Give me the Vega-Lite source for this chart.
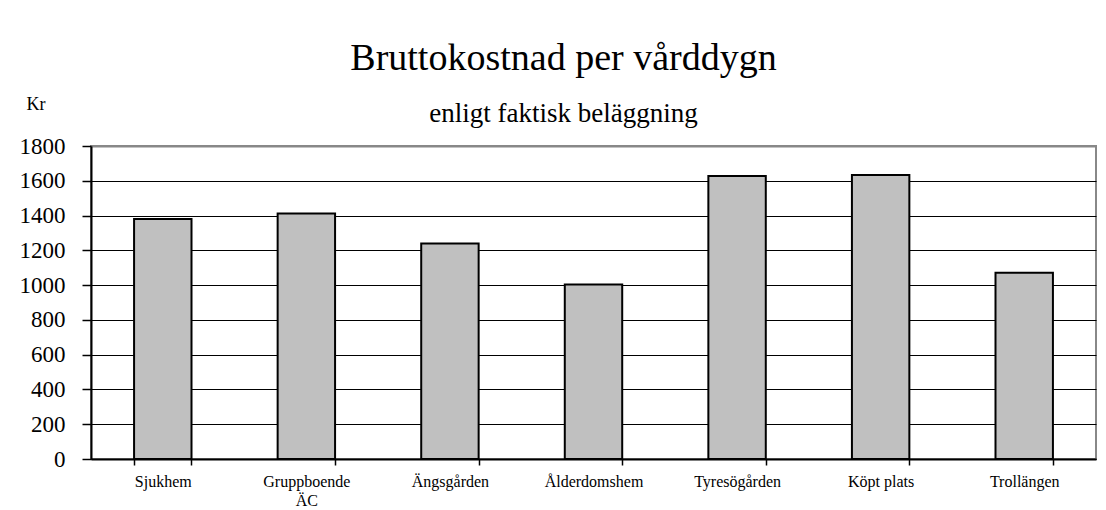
{
  "$schema": "https://vega.github.io/schema/vega-lite/v6.json",
  "autosize": {"type": "none"},
  "width": 1005,
  "height": 313,
  "padding": {"left": 91, "top": 146, "right": 10, "bottom": 51},
  "background": "white",
  "title": {
    "text": "Bruttokostnad per vårddygn",
    "subtitle": "enligt faktisk beläggning",
    "anchor": "middle",
    "frame": "group",
    "dx": -30,
    "offset": -32,
    "font": "Liberation Serif",
    "fontSize": 38,
    "fontWeight": "normal",
    "color": "black",
    "subtitleFont": "Liberation Serif",
    "subtitleFontSize": 27,
    "subtitleColor": "black",
    "subtitlePadding": 23
  },
  "data": {
    "values": [
      {"enhet": "Sjukhem", "kostnad": 1380},
      {"enhet": "Gruppboende ÄC", "kostnad": 1412},
      {"enhet": "Ängsgården", "kostnad": 1240},
      {"enhet": "Ålderdomshem", "kostnad": 1004},
      {"enhet": "Tyresögården", "kostnad": 1627},
      {"enhet": "Köpt plats", "kostnad": 1633},
      {"enhet": "Trollängen", "kostnad": 1071}
    ]
  },
  "mark": {"type": "bar", "fill": "#c0c0c0", "stroke": "black", "strokeWidth": 2},
  "encoding": {
    "x": {
      "field": "enhet",
      "type": "nominal",
      "sort": null,
      "scale": {"paddingInner": 0.6, "paddingOuter": 0.3},
      "axis": {
        "title": null,
        "labelAngle": 0,
        "labelFont": "Liberation Serif",
        "labelFontSize": 16,
        "labelColor": "black",
        "labelPadding": 8,
        "labelLineHeight": 19,
        "labelExpr": "datum.label == 'Gruppboende ÄC' ? ['Gruppboende', 'ÄC'] : datum.label",
        "tickBand": "extent",
        "tickSize": 6,
        "tickColor": "black",
        "tickWidth": 1.5,
        "domainColor": "black",
        "domainWidth": 2,
        "grid": false
      }
    },
    "y": {
      "field": "kostnad",
      "type": "quantitative",
      "scale": {"domain": [0, 1800], "nice": false},
      "axis": {
        "title": "Kr",
        "titleAngle": 0,
        "titleAlign": "left",
        "titleBaseline": "alphabetic",
        "titleX": -65,
        "titleY": -37,
        "titleFont": "Liberation Serif",
        "titleFontSize": 18,
        "titleFontWeight": "normal",
        "titleColor": "black",
        "values": [0, 200, 400, 600, 800, 1000, 1200, 1400, 1600, 1800],
        "format": "d",
        "labelFont": "Liberation Serif",
        "labelFontSize": 23,
        "labelColor": "black",
        "labelPadding": 17,
        "tickSize": 9,
        "tickColor": "black",
        "tickWidth": 1.5,
        "domainColor": "black",
        "domainWidth": 2,
        "grid": true,
        "gridColor": {"condition": {"test": "datum.value === 1800", "value": "#888888"}, "value": "black"},
        "gridWidth": {"condition": {"test": "datum.value === 1800", "value": 2}, "value": 1},
        "gridOpacity": 1
      }
    }
  },
  "config": {
    "view": {"stroke": "#888888", "strokeWidth": 2},
    "axis": {"labelFlush": false, "labelOverlap": false}
  }
}
